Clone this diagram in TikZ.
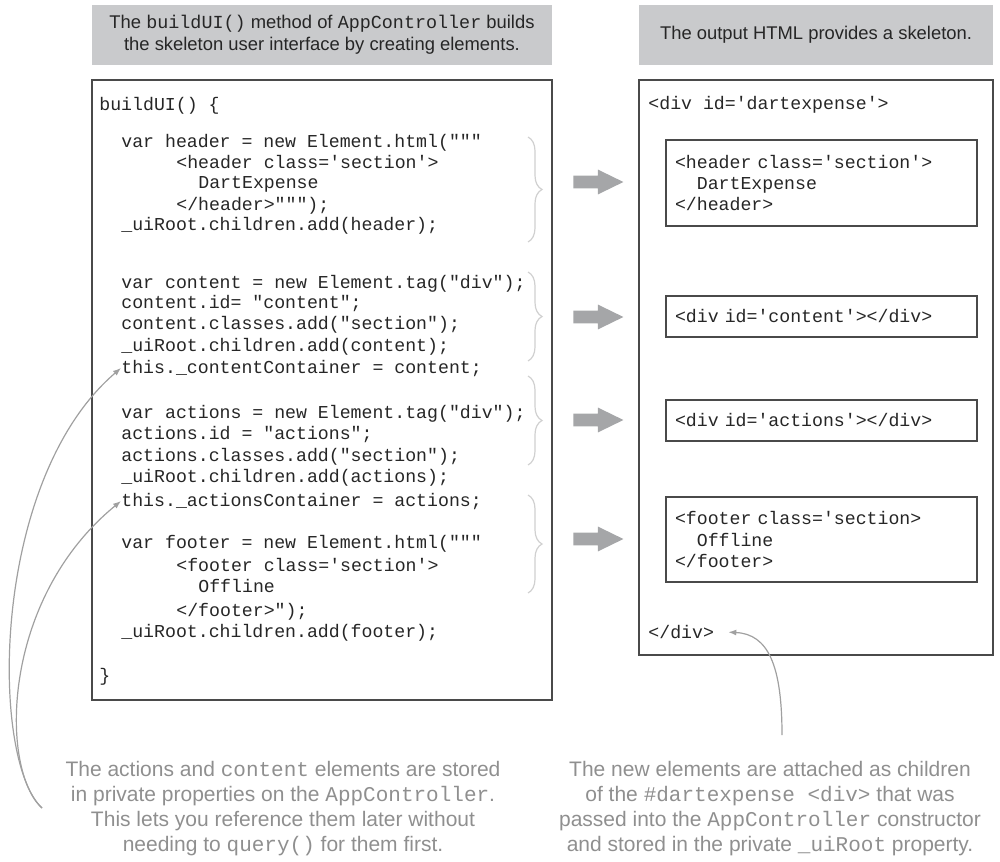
\documentclass[tikz,border=0pt]{standalone}
\usepackage{fontspec}
\setmainfont{Liberation Sans}
\setmonofont{Liberation Mono}
\usetikzlibrary{arrows.meta,shapes.arrows,decorations.pathreplacing}
\definecolor{CapGray}{HTML}{C9CACC}
\definecolor{BoxLine}{HTML}{4A4A4A}
\definecolor{CodeInk}{HTML}{262626}
\definecolor{BraceGray}{HTML}{D0D0D0}
\definecolor{FatGray}{HTML}{A5A6A8}
\definecolor{NoteGray}{HTML}{8F8F8F}
\newcommand{\codefont}{\fontsize{9.1}{10.6}\selectfont\ttfamily}
\newcommand{\capfont}{\fontsize{9.2}{11}\selectfont}
\newcommand{\notefont}{\fontsize{10.5}{12.5}\selectfont}

\begin{document}
\begin{tikzpicture}[x=0.5pt,y=-0.5pt,
    capbox/.style={fill=CapGray,text=CodeInk,font=\capfont,align=center,inner sep=0pt,minimum height=30pt},
    boxframe/.style={draw=BoxLine,line width=0.7pt,inner sep=0pt},
    codeline/.style={anchor=base west,inner sep=0pt,font=\codefont,text=CodeInk},
    htmlbox/.style={boxframe,minimum width=155.5pt,text width=146.5pt,inner xsep=4.5pt,
      align=left,font=\codefont,text=CodeInk},
    fatarrow/.style={single arrow,fill=FatGray,inner sep=3pt,single arrow head extend=3pt,
      single arrow tip angle=52,minimum height=25pt,anchor=tail},
    bracemark/.style={decorate,decoration={brace,amplitude=7pt},draw=BraceGray,line width=0.6pt},
    notetext/.style={font=\notefont,text=NoteGray,align=center,inner sep=0pt},
    notearrow/.style={-{Latex[length=4pt,width=3pt]},draw=NoteGray!85,line width=0.6pt}
  ]
  \useasboundingbox (0,0) rectangle (1000,861);

  % frames and captions
  \node[boxframe,minimum width=230pt,minimum height=310pt] (codebox) at (322,390) {};
  \node[boxframe,minimum width=177pt,minimum height=287.5pt] (outbox) at (816,367.5) {};
  \node[capbox,minimum width=230pt] (capcode) at (322,35)
    {The \texttt{buildUI()} method of \texttt{AppController} builds\\the skeleton user interface by creating elements.};
  \node[capbox,minimum width=177pt] (capout) at (816,35) {The output HTML provides a skeleton.};

  % buildUI() source
  \node[codeline] (c0) at (99,111) {buildUI() \{};
  \node[codeline] (c1) at (121,148) {var header = new Element.html("""};
  \node[codeline] (c2) at (176,169) {<header class='section'>};
  \node[codeline] (c3) at (198,189) {DartExpense};
  \node[codeline] (c4) at (176,211) {</header>""");};
  \node[codeline] (c5) at (121,231) {\_uiRoot.children.add(header);};
  \node[codeline] (c6) at (121,288) {var content = new Element.tag("div");};
  \node[codeline] (c7) at (121,308) {content.id= "content";};
  \node[codeline] (c8) at (121,329) {content.classes.add("section");};
  \node[codeline] (c9) at (121,351) {\_uiRoot.children.add(content);};
  \node[codeline] (c10) at (121,373) {this.\_contentContainer = content;};
  \node[codeline] (c11) at (121,418) {var actions = new Element.tag("div");};
  \node[codeline] (c12) at (121,439) {actions.id = "actions";};
  \node[codeline] (c13) at (121,461) {actions.classes.add("section");};
  \node[codeline] (c14) at (121,482) {\_uiRoot.children.add(actions);};
  \node[codeline] (c15) at (121,506) {this.\_actionsContainer = actions;};
  \node[codeline] (c16) at (121,548) {var footer = new Element.html("""};
  \node[codeline] (c17) at (176,571) {<footer class='section'>};
  \node[codeline] (c18) at (198,592) {Offline};
  \node[codeline] (c19) at (176,616) {</footer>");};
  \node[codeline] (c20) at (121,637) {\_uiRoot.children.add(footer);};
  \node[codeline] (c21) at (99,681) {\}};

  % braces and arrows
  \draw[bracemark] (528,137) -- (528,242);
  \draw[bracemark] (528,272) -- (528,361);
  \draw[bracemark] (528,376) -- (528,465);
  \draw[bracemark] (528,495) -- (528,593);
  \node[fatarrow] (arr1) at (573,182) {};
  \node[fatarrow] (arr2) at (573,317) {};
  \node[fatarrow] (arr3) at (573,420) {};
  \node[fatarrow] (arr4) at (573,539) {};

  % output HTML
  \node[codeline] (divopen) at (648,110) {<div id='dartexpense'>};
  \node[htmlbox,minimum height=43pt] (hheader) at (821.5,183)
    {<header class='section'>\\\phantom{xx}DartExpense\\</header>};
  \node[htmlbox,minimum height=20.5pt] (hcontent) at (821.5,316.5) {<div id='content'></div>};
  \node[htmlbox,minimum height=20.5pt] (hactions) at (821.5,420.5) {<div id='actions'></div>};
  \node[htmlbox,minimum height=42.5pt] (hfooter) at (821.5,539.5)
    {<footer class='section>\\\phantom{xx}Offline\\</footer>};
  \node[codeline] (divclose) at (648,638) {</div>};

  % notes
  \node[notetext] (lnote) at (283,808.5)
    {The actions and \texttt{content} elements are stored\\in private properties on the \texttt{AppController}.\\This lets you reference them later without\\needing to \texttt{query()} for them first.};
  \node[notetext] (rnote) at (770,808.5)
    {The new elements are attached as children\\of the \texttt{\#dartexpense <div>} that was\\passed into the \texttt{AppController} constructor\\and stored in the private \texttt{\_uiRoot} property.};
  \coordinate (lfoot) at (42,808);
  \coordinate (rfoot) at (782,735);
  \draw[notearrow] (lfoot) .. controls (-10,760) and (-10,480) .. (c10.west);
  \draw[notearrow] (lfoot) .. controls (0,770) and (0,600) .. (c15.west);
  \draw[notearrow,shorten >=7pt] (rfoot) .. controls (782,665) and (768,634) .. (divclose.east);
\end{tikzpicture}
\end{document}
